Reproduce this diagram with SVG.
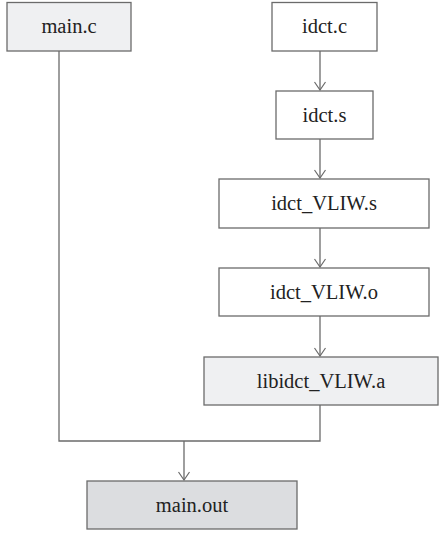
<svg xmlns="http://www.w3.org/2000/svg" width="440" height="533" viewBox="0 0 440 533">
<defs>
<style>
.box{stroke:#6b6b6b;stroke-width:1.3}
.w{fill:#ffffff}
.l{fill:#eff0f2}
.d{fill:#dcdde0}
.t{font-family:"Liberation Serif","Times New Roman",serif;font-size:20.5px;fill:#222222;text-anchor:middle;dominant-baseline:central}
.c{fill:none;stroke:#6b6b6b;stroke-width:1.3}
</style>
<marker id="a" viewBox="0 0 10 12" refX="9" refY="6" markerWidth="10" markerHeight="12" markerUnits="userSpaceOnUse" orient="auto">
<path d="M1,0.5 L9,6 L1,11.5" fill="none" stroke="#6b6b6b" stroke-width="1.2"/>
</marker>
</defs>
<rect width="440" height="533" fill="#ffffff"/>
<g id="connectors">
<line class="c" x1="320" y1="51" x2="320" y2="90" marker-end="url(#a)"/>
<line class="c" x1="320" y1="139" x2="320" y2="178" marker-end="url(#a)"/>
<line class="c" x1="320" y1="228" x2="320" y2="267" marker-end="url(#a)"/>
<line class="c" x1="320" y1="316" x2="320" y2="356" marker-end="url(#a)"/>
<polyline class="c" points="59,51 59,441 320,441 320,405"/>
<line class="c" x1="184" y1="441" x2="184" y2="480" marker-end="url(#a)"/>
</g>
<g id="main_c"><rect class="box l" x="7" y="2.5" width="124" height="48.5"/><text class="t" x="69" y="26">main.c</text></g>
<g id="idct_c"><rect class="box w" x="272" y="2.5" width="105" height="48.5"/><text class="t" x="324.5" y="26">idct.c</text></g>
<g id="idct_s"><rect class="box w" x="276" y="91" width="97" height="48"/><text class="t" x="324.5" y="114.5">idct.s</text></g>
<g id="idct_VLIW_s"><rect class="box w" x="219" y="179" width="210" height="49"/><text class="t" x="324" y="203">idct_VLIW.s</text></g>
<g id="idct_VLIW_o"><rect class="box w" x="219" y="268" width="210" height="48"/><text class="t" x="324" y="291.5">idct_VLIW.o</text></g>
<g id="libidct_VLIW_a"><rect class="box l" x="204" y="357" width="234" height="48"/><text class="t" x="321" y="380.5">libidct_VLIW.a</text></g>
<g id="main_out"><rect class="box d" x="87" y="481" width="210" height="48"/><text class="t" x="192" y="504.5">main.out</text></g>
</svg>
